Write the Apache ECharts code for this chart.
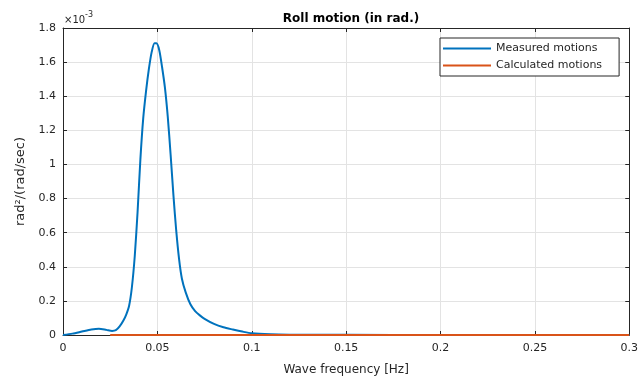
<!DOCTYPE html>
<html>
<head>
<meta charset="utf-8">
<script src="https://cdn.jsdelivr.net/npm/echarts@6/dist/echarts.min.js"></script>
<style>html,body{margin:0;padding:0;background:#fff;}#c{width:641px;height:381px;}</style>
</head>
<body>
<div id="c"></div>
<script>
// Measured motions (x in Hz, y in units of 1e-3 rad^2/(rad/sec))
const measuredX = [0, 0.005, 0.01, 0.015, 0.019, 0.023, 0.026, 0.028, 0.030, 0.032, 0.0335, 0.035, 0.0365, 0.038, 0.0395, 0.041, 0.0425, 0.044, 0.0455, 0.047, 0.0485, 0.0495, 0.051, 0.0525, 0.054, 0.0555, 0.057, 0.0585, 0.060, 0.0615, 0.063, 0.065, 0.0675, 0.070, 0.0725, 0.075, 0.080, 0.085, 0.090, 0.095, 0.100, 0.110, 0.120, 0.150, 0.200, 0.300];
const measuredY = [0, 0.008, 0.02, 0.032, 0.037, 0.03, 0.024, 0.028, 0.05, 0.085, 0.12, 0.17, 0.28, 0.46, 0.72, 1.03, 1.27, 1.43, 1.56, 1.66, 1.71, 1.71, 1.67, 1.57, 1.45, 1.28, 1.06, 0.82, 0.61, 0.445, 0.33, 0.25, 0.18, 0.14, 0.115, 0.095, 0.065, 0.045, 0.032, 0.02, 0.01, 0.004, 0.002, 0.001, 0.0005, 0];
// Calculated motions
const calculatedX = [0.025, 0.1, 0.2, 0.3];
const calculatedY = [0, 0, 0, 0];
const xTicks = [0, 0.05, 0.1, 0.15, 0.2, 0.25, 0.3];
const yTicks = [0, 0.2, 0.4, 0.6, 0.8, 1, 1.2, 1.4, 1.6, 1.8];

const FONT = 'DejaVu Sans, Liberation Sans, Arial, sans-serif';
const TXT = '#262626';
const zip = (a, b) => a.map((v, i) => [v, b[i]]);

const chart = echarts.init(document.getElementById('c'), null, {renderer: 'canvas'});
const axisBase = {
  axisLine: {show: true, onZero: false, lineStyle: {color: '#262626', width: 1}},
  axisTick: {show: true, inside: true, length: 4, lineStyle: {color: '#262626'}},
};
chart.setOption({
  animation: false,
  backgroundColor: '#fff',
  title: {
    text: 'Roll motion (in rad.)',
    left: 346, top: 8, textAlign: 'center',
    textStyle: {fontFamily: FONT, fontSize: 12, fontWeight: 'bold', color: '#000'}
  },
  legend: {
    orient: 'vertical',
    left: 440, top: 38,
    padding: [4, 17, 4, 3],
    itemGap: 4,
    itemWidth: 48, itemHeight: 2,
    icon: 'rect',
    borderColor: '#262626', borderWidth: 1,
    backgroundColor: '#fff',
    textStyle: {fontFamily: FONT, fontSize: 11, color: TXT, lineHeight: 13},
    data: [{name: 'Measured motions', icon: 'rect'}, {name: 'Calculated motions', icon: 'rect'}]
  },
  grid: {left: 63, right: 11, top: 28, bottom: 41, containLabel: false},
  xAxis: [
    Object.assign({}, axisBase, {
      type: 'value', min: 0, max: 0.3, interval: 0.05, position: 'bottom',
      name: 'Wave frequency [Hz]', nameLocation: 'middle', nameGap: 29,
      nameTextStyle: {fontFamily: FONT, fontSize: 12, color: TXT},
      axisLabel: {fontFamily: FONT, fontSize: 11, color: TXT, margin: 8,
        formatter: v => { const t = xTicks.find(k => Math.abs(k - v) < 1e-9); return t === undefined ? '' : String(t); }},
      splitLine: {show: true, lineStyle: {color: '#e3e3e3', width: 1}}
    }),
    Object.assign({}, axisBase, {
      type: 'value', min: 0, max: 0.3, interval: 0.05, position: 'top',
      axisLabel: {show: false}, splitLine: {show: false}
    })
  ],
  yAxis: [
    Object.assign({}, axisBase, {
      type: 'value', min: 0, max: 1.8, interval: 0.2, position: 'left',
      name: 'rad²/(rad/sec)', nameLocation: 'middle', nameGap: 35,
      nameTextStyle: {fontFamily: FONT, fontSize: 13, color: TXT},
      axisLabel: {fontFamily: FONT, fontSize: 11, color: TXT, margin: 7,
        formatter: v => { const t = yTicks.find(k => Math.abs(k - v) < 1e-9); return t === undefined ? '' : String(t); }},
      splitLine: {show: true, lineStyle: {color: '#e3e3e3', width: 1}}
    }),
    Object.assign({}, axisBase, {
      type: 'value', min: 0, max: 1.8, interval: 0.2, position: 'right',
      axisLabel: {show: false}, splitLine: {show: false}
    })
  ],
  graphic: [{
    type: 'text', left: 64, top: 11,
    style: {
      text: '{a|×10}{b|-3}',
      rich: {
        a: {fontFamily: FONT, fontSize: 10, fill: TXT, verticalAlign: 'bottom', padding: [4, 0, 0, 0]},
        b: {fontFamily: FONT, fontSize: 8, fill: TXT, verticalAlign: 'top'}
      }
    }
  }],
  series: [
    {
      name: 'Measured motions', type: 'line', xAxisIndex: 0, yAxisIndex: 0,
      data: zip(measuredX, measuredY), smooth: 0.25, symbol: 'none',
      lineStyle: {color: '#0072BD', width: 2}, itemStyle: {color: '#0072BD'}, z: 3
    },
    {
      name: 'Calculated motions', type: 'line', xAxisIndex: 0, yAxisIndex: 0,
      data: zip(calculatedX, calculatedY), symbol: 'none',
      lineStyle: {color: '#D95319', width: 2}, itemStyle: {color: '#D95319'}, z: 4
    }
  ]
});
</script>
</body>
</html>
